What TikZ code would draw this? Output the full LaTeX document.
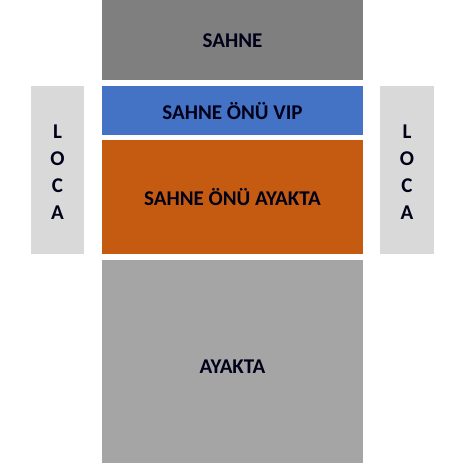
\documentclass[tikz,border=0pt]{standalone}
\usepackage{fontspec}
\setmainfont{Carlito}
\definecolor{sahnegray}{HTML}{7F7F7F}
\definecolor{vipblue}{HTML}{4472C4}
\definecolor{onorange}{HTML}{C55A11}
\definecolor{locagray}{HTML}{D9D9D9}
\definecolor{ayaktagray}{HTML}{A5A5A5}

\begin{document}
\begin{tikzpicture}[x=1pt,y=-1pt,
    area/.style={inner sep=0pt,outer sep=0pt,font=\bfseries\fontsize{21}{24}\selectfont,text=black!90!blue},
    locabox/.style={area,fill=locagray,align=center,font=\bfseries\fontsize{21}{27}\selectfont}]
  \useasboundingbox[fill=white] (0,0) rectangle (463,463);
  % sahne ve on alanlar
  \fill[sahnegray] (102,0) rectangle (363,80);
  \node[area] (sahne) at (232.5,41) {SAHNE};
  \fill[vipblue] (102,86) rectangle (363,135);
  \node[area] (vip) at (232.5,111) {SAHNE ÖNÜ VIP};
  \fill[onorange] (102,140) rectangle (363,254);
  \node[area] (onayakta) at (232.5,197) {SAHNE ÖNÜ AYAKTA};
  \fill[ayaktagray] (102,260) rectangle (363,463);
  \node[area] (ayakta) at (232.5,367) {AYAKTA};
  % localar
  \fill[locagray] (31,86) rectangle (84,254);
  \node[locabox] (locasol) at (57.5,172) {L\\O\\C\\A};
  \fill[locagray] (380,86) rectangle (434,254);
  \node[locabox] (locasag) at (407,172) {L\\O\\C\\A};
\end{tikzpicture}
\end{document}
